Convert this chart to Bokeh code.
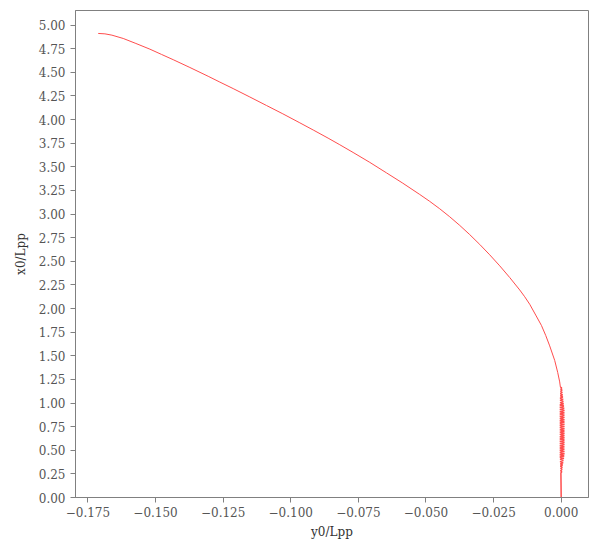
from bokeh.plotting import figure
from bokeh.models import FixedTicker, CustomJSTickFormatter, Range1d
from bokeh.embed import file_html
from bokeh.resources import INLINE

# Trajectory: main turning arc (y0/Lpp, x0/Lpp)
arc_y0 = [-0.17120, -0.16872, -0.16614, -0.16196, -0.15727, -0.15209, -0.14784, -0.14348,
          -0.13731, -0.13054, -0.12622, -0.12130, -0.11513, -0.10896, -0.10293, -0.09665,
          -0.09148, -0.08619, -0.08187, -0.07695, -0.07078, -0.06461, -0.05858, -0.05230,
          -0.04860, -0.04491, -0.04121, -0.03751, -0.03382, -0.03012, -0.02643, -0.02273,
          -0.01903, -0.01534, -0.01349, -0.01164, -0.00942, -0.00732, -0.00573, -0.00425,
          -0.00240, -0.00129, -0.00055, -0.00030]
arc_x0 = [4.9121, 4.9078, 4.8941, 4.8591, 4.8061, 4.7458, 4.6907, 4.6345,
          4.5519, 4.4587, 4.3972, 4.3284, 4.2394, 4.1494, 4.0614, 3.9661,
          3.8867, 3.8040, 3.7341, 3.6525, 3.5477, 3.4364, 3.3273, 3.2076,
          3.1345, 3.0561, 2.9714, 2.8803, 2.7828, 2.6790, 2.5689, 2.4523,
          2.3284, 2.1970, 2.1250, 2.0455, 1.9311, 1.8220, 1.7161, 1.6049,
          1.4513, 1.3242, 1.2235, 1.1684]

# Oscillating straight-run part near y0 = 0
osc_y0 = [0.0002, -0.0002, 0.0003, -0.0002, 0.0004, -0.0003, 0.0005, -0.0003,
          0.0006, -0.0004, 0.0007, -0.0004, 0.0008, -0.0004, 0.0009, -0.0005,
          0.0010, -0.0005, 0.0011, -0.0005,
          0.0012, -0.0005, 0.0012, -0.0005, 0.0012, -0.0005, 0.0012, -0.0005,
          0.0012, -0.0005, 0.0012, -0.0005, 0.0012, -0.0005, 0.0012, -0.0005,
          0.0012, -0.0005, 0.0012, -0.0005, 0.0012, -0.0005, 0.0012, -0.0005,
          0.0012, -0.0005, 0.0012, -0.0005, 0.0012, -0.0005, 0.0012, -0.0005,
          0.0012, -0.0005, 0.0012, -0.0005, 0.0012, -0.0005, 0.0012, -0.0005,
          0.0011, -0.0005, 0.0010, -0.0004, 0.0008, -0.0004, 0.0007, -0.0003,
          0.0005, -0.0003, 0.0004, -0.0002, 0.0003, -0.0002, 0.0002, -0.0001,
          0.0000]
osc_x0 = [1.160, 1.148, 1.136, 1.124, 1.112, 1.100, 1.088, 1.076,
          1.064, 1.052, 1.040, 1.028, 1.016, 1.004, 0.992, 0.980,
          0.968, 0.956, 0.944, 0.932,
          0.920, 0.908, 0.896, 0.884, 0.872, 0.860, 0.848, 0.836,
          0.824, 0.812, 0.800, 0.788, 0.776, 0.764, 0.752, 0.740,
          0.728, 0.716, 0.704, 0.692, 0.680, 0.668, 0.656, 0.644,
          0.632, 0.620, 0.608, 0.596, 0.584, 0.572, 0.560, 0.548,
          0.536, 0.524, 0.512, 0.500, 0.488, 0.476, 0.464, 0.452,
          0.440, 0.428, 0.416, 0.404, 0.392, 0.380, 0.368, 0.356,
          0.344, 0.332, 0.320, 0.308, 0.296, 0.284, 0.272, 0.260,
          0.000]

x_ticks = [-0.175, -0.150, -0.125, -0.100, -0.075, -0.050, -0.025, 0.000]
y_ticks = [0.00, 0.25, 0.50, 0.75, 1.00, 1.25, 1.50, 1.75, 2.00, 2.25, 2.50,
           2.75, 3.00, 3.25, 3.50, 3.75, 4.00, 4.25, 4.50, 4.75, 5.00]

LINE_COLOR = "#ff4d4d"

p = figure(width=592, height=542, output_backend="svg", toolbar_location=None,
           x_range=Range1d(-0.1796, 0.0101), y_range=Range1d(0, 5.155),
           min_border_left=75, min_border_right=4, min_border_top=10,
           min_border_bottom=45)

# arc part of the trajectory
p.line(arc_y0, arc_x0, line_color=LINE_COLOR, line_width=1)
# oscillating part, continuing from the arc's last point
p.line(arc_y0[-1:] + osc_y0, arc_x0[-1:] + osc_x0, line_color=LINE_COLOR,
       line_width=1.5)

p.grid.visible = False
p.outline_line_color = "#808080"
p.outline_line_width = 1
p.background_fill_color = "white"
p.border_fill_color = "white"

p.xaxis.ticker = FixedTicker(ticks=x_ticks)
p.yaxis.ticker = FixedTicker(ticks=y_ticks)
p.xaxis.formatter = CustomJSTickFormatter(code="""
    const a = Math.abs(tick).toFixed(3);
    return (tick < -1e-9 ? "\u2212" : "") + a;
""")
p.yaxis.formatter = CustomJSTickFormatter(code="return tick.toFixed(2);")

for ax in (p.xaxis[0], p.yaxis[0]):
    ax.axis_line_color = "#808080"
    ax.major_tick_line_color = "#808080"
    ax.major_tick_in = 0
    ax.major_tick_out = 5
    ax.minor_tick_line_color = None
    ax.major_label_text_font = "DejaVu Serif"
    ax.major_label_text_font_size = "12px"
    ax.major_label_text_color = "#555555"
    ax.axis_label_text_font = "DejaVu Serif"
    ax.axis_label_text_font_size = "12px"
    ax.axis_label_text_font_style = "normal"
    ax.axis_label_text_color = "#333333"

p.xaxis.major_label_standoff = 4
p.yaxis.major_label_standoff = 5
p.xaxis.axis_label = "y0/Lpp"
p.yaxis.axis_label = "x0/Lpp"
p.xaxis.axis_label_standoff = 5
p.yaxis.axis_label_standoff = 8

open("out.html", "w").write(file_html(p, INLINE))
